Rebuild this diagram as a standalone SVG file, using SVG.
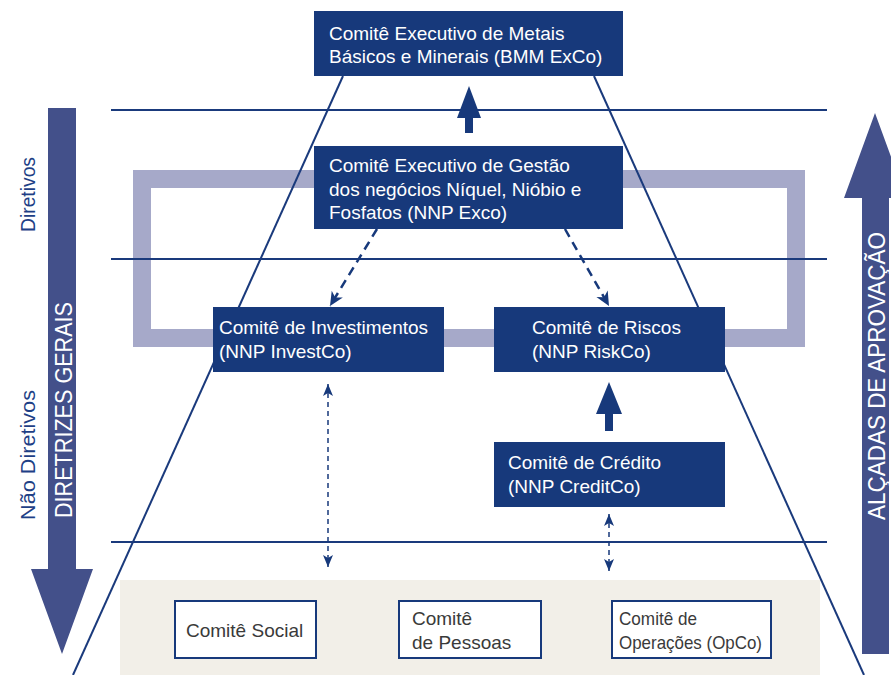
<svg xmlns="http://www.w3.org/2000/svg" width="891" height="675" viewBox="0 0 891 675">
<defs>
<style>
.box{fill:#17397b}
.wbox{fill:#ffffff;stroke:#17397b;stroke-width:2}
.t{font-family:"Liberation Sans",Arial,sans-serif;font-size:19px;fill:#ffffff}
.g{font-family:"Liberation Sans",Arial,sans-serif;font-size:19px;fill:#3a3a3a}
.side{font-family:"Liberation Sans",Arial,sans-serif;font-size:21px;fill:#1e3f86}
.big{font-family:"Liberation Sans",Arial,sans-serif;font-size:24px;fill:#ffffff}
.hl{stroke:#1a3a7c;stroke-width:2;fill:none}
.dash{stroke:#17397b;stroke-width:2.5;fill:none;stroke-dasharray:9 6}
.dash2{stroke:#17397b;stroke-width:1.5;fill:none;stroke-dasharray:5 4}
.solid{fill:#17397b}
</style>
<marker id="stealth" markerUnits="userSpaceOnUse" markerWidth="16" markerHeight="14" viewBox="-15 -7 16 14" refX="0" refY="0" orient="auto-start-reverse">
<path d="M0,0 L-14,-6.5 L-10,0 L-14,6.5 Z" fill="#17397b"/>
</marker>
<marker id="small" markerUnits="userSpaceOnUse" markerWidth="14" markerHeight="12" viewBox="-13 -6 14 12" refX="0" refY="0" orient="auto-start-reverse">
<path d="M0,0 L-12,-5 L-9,0 L-12,5 Z" fill="#17397b"/>
</marker>
</defs>

<g id="background">
<rect x="120" y="580" width="700" height="95" fill="#f2efe8"/>
<rect x="142" y="179" width="654" height="159" fill="none" stroke="#a6a9c9" stroke-width="18"/>
</g>

<g id="side-arrows">
<path d="M48,108 L76,108 L76,569 L93,569 L62,654 L31,569 L48,569 Z" fill="#43508a"/>
<path d="M875,113 L906,198 L889,198 L889,654 L862,654 L862,198 L844,198 Z" fill="#43508a"/>
<text class="big" transform="translate(72,518) rotate(-90)" textLength="216" lengthAdjust="spacingAndGlyphs">DIRETRIZES GERAIS</text>
<text class="big" transform="translate(885,520) rotate(-90)" textLength="288" lengthAdjust="spacingAndGlyphs">ALÇADAS DE APROVAÇÃO</text>
<text class="side" transform="translate(35,232) rotate(-90)" textLength="75" lengthAdjust="spacingAndGlyphs">Diretivos</text>
<text class="side" transform="translate(35,520) rotate(-90)" textLength="130" lengthAdjust="spacingAndGlyphs">Não Diretivos</text>
</g>

<g id="connectors">
<line class="hl" x1="111" y1="110" x2="827" y2="110"/>
<line class="hl" x1="111" y1="259" x2="827" y2="259"/>
<line class="hl" x1="111" y1="542" x2="827" y2="542"/>
<line class="hl" x1="343" y1="76" x2="73" y2="675"/>
<line class="hl" x1="594" y1="76" x2="864" y2="675"/>
<path class="solid" d="M469,86 L481,118 L473,118 L473,133 L465,133 L465,118 L457,118 Z"/>
<path class="solid" d="M609,382 L622,414 L613,414 L613,431 L605,431 L605,414 L596,414 Z"/>
<line class="dash" x1="377" y1="229" x2="330" y2="306" marker-end="url(#stealth)"/>
<line class="dash" x1="565" y1="229" x2="609" y2="306" marker-end="url(#stealth)"/>
<line class="dash2" x1="328" y1="384" x2="328" y2="567" marker-start="url(#small)" marker-end="url(#small)"/>
<line class="dash2" x1="609" y1="514" x2="609" y2="571" marker-start="url(#small)" marker-end="url(#small)"/>
</g>

<g id="bmm-exco">
<rect class="box" x="314" y="11" width="309" height="65"/>
<text class="t" x="329" y="39.5">Comitê Executivo de Metais</text>
<text class="t" x="329" y="63">Básicos e Minerais (BMM ExCo)</text>
</g>

<g id="nnp-exco">
<rect class="box" x="314" y="146" width="309" height="83"/>
<text class="t" x="329" y="172">Comitê Executivo de Gestão</text>
<text class="t" x="329" y="195.5">dos negócios Níquel, Nióbio e</text>
<text class="t" x="329" y="219">Fosfatos (NNP Exco)</text>
</g>

<g id="investco">
<rect class="box" x="213" y="307" width="231" height="65"/>
<text class="t" x="219" y="334">Comitê de Investimentos</text>
<text class="t" x="219" y="358">(NNP InvestCo)</text>
</g>

<g id="riskco">
<rect class="box" x="494" y="307" width="231" height="65"/>
<text class="t" x="532" y="334">Comitê de Riscos</text>
<text class="t" x="532" y="358">(NNP RiskCo)</text>
</g>

<g id="creditco">
<rect class="box" x="494" y="442" width="231" height="65"/>
<text class="t" x="508" y="469">Comitê de Crédito</text>
<text class="t" x="508" y="493">(NNP CreditCo)</text>
</g>

<g id="social">
<rect class="wbox" x="175" y="601" width="141" height="57"/>
<text class="g" x="186" y="637">Comitê Social</text>
</g>

<g id="pessoas">
<rect class="wbox" x="399" y="601" width="142" height="57"/>
<text class="g" x="412" y="625">Comitê</text>
<text class="g" x="412" y="649">de Pessoas</text>
</g>

<g id="opco">
<rect class="wbox" x="612" y="601" width="159" height="57"/>
<text class="g" x="619" y="625" textLength="78" lengthAdjust="spacingAndGlyphs">Comitê de</text>
<text class="g" x="619" y="649" textLength="143" lengthAdjust="spacingAndGlyphs">Operações (OpCo)</text>
</g>
</svg>
